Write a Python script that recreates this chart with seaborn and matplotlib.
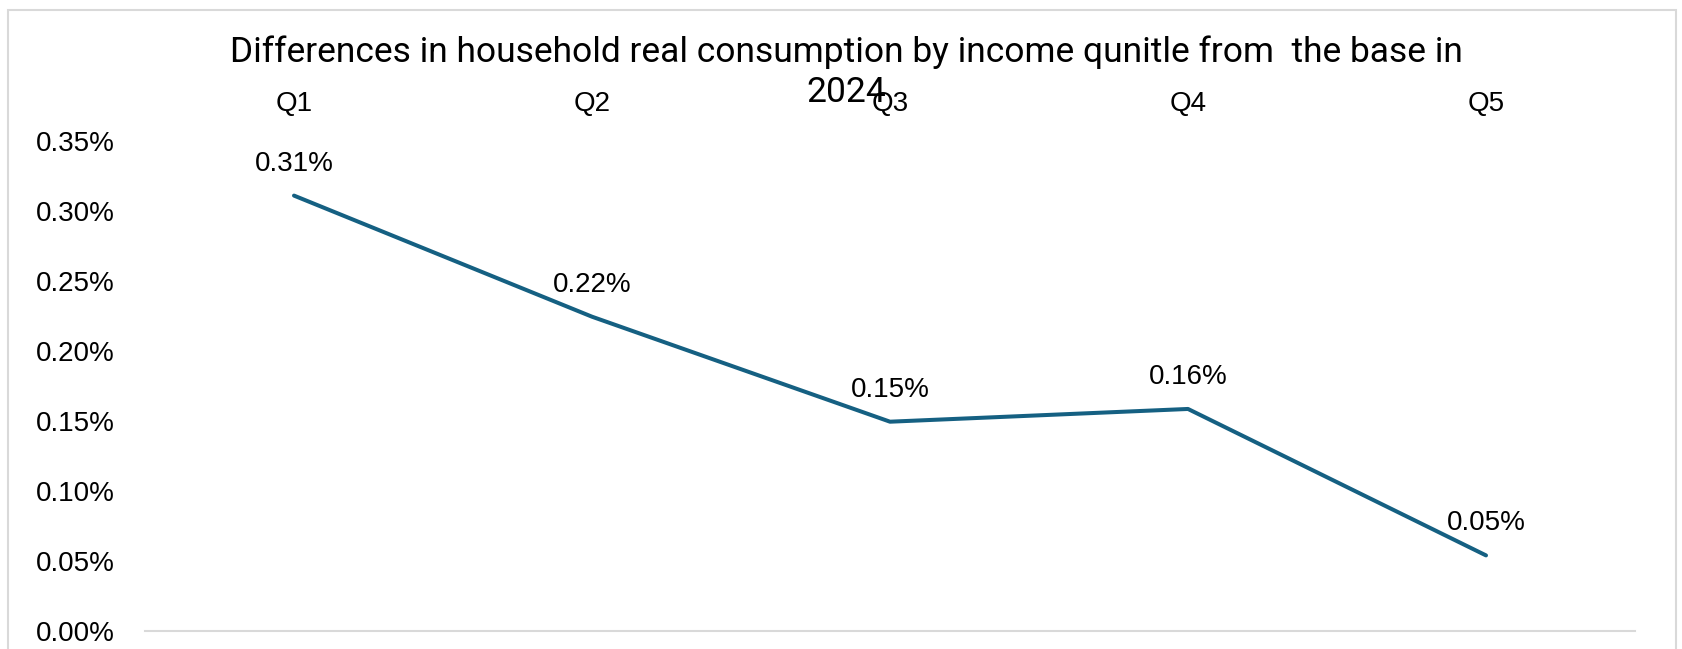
import matplotlib
matplotlib.use("Agg")
import matplotlib.pyplot as plt
import matplotlib.patches as patches
from matplotlib.ticker import PercentFormatter
import pandas as pd
import seaborn as sns

quintiles = ["Q1", "Q2", "Q3", "Q4", "Q5"]
consumption_diff = [0.311, 0.2245, 0.1495, 0.1586, 0.054]  # percent
y_ticks = [0.00, 0.05, 0.10, 0.15, 0.20, 0.25, 0.30, 0.35]
title_lines = ["Differences in household real consumption by income qunitle from  the base in",
               "2024"]

df = pd.DataFrame({"quintile": quintiles, "diff": consumption_diff})

sns.set_theme(style="white")
plt.rcParams['font.family'] = ['Liberation Sans', 'DejaVu Sans']

fig = plt.figure(figsize=(16.82, 6.49), dpi=100)
ax = fig.add_axes([145 / 1682, 18 / 649, 1490 / 1682, 490 / 649])

sns.lineplot(data=df, x="quintile", y="diff", ax=ax, color="#156082",
             linewidth=2.9, sort=False, solid_capstyle="round")

# data labels
for i, v in enumerate(consumption_diff):
    ax.annotate(f"{v:.2f}%", (i, v), xytext=(0, 23), textcoords="offset points",
                ha="center", va="center", fontsize=20, color="black")

ax.set_xlim(-0.5, 4.5)
ax.set_ylim(0, 0.35)
ax.set_yticks(y_ticks)
ax.yaxis.set_major_formatter(PercentFormatter(decimals=2))
ax.xaxis.tick_top()
ax.tick_params(axis="x", length=0, pad=17, labelsize=20, labelcolor="black")
ax.tick_params(axis="y", length=0, pad=22, labelsize=20, labelcolor="black")
ax.set_xlabel("")
ax.set_ylabel("")
for s in ["top", "left", "right"]:
    ax.spines[s].set_visible(False)
ax.spines["bottom"].set_color("#D9D9D9")
ax.spines["bottom"].set_linewidth(1.5)

# title (two lines, second one sits over the Q3 label like in the original)
fig.text(0.503, 0.945, title_lines[0], ha="center", va="top", fontsize=25.5,
         color="black", family=["Roboto", "DejaVu Sans"])
fig.text(0.503, 0.883, title_lines[1], ha="center", va="top", fontsize=25.5,
         color="black", family=["Roboto", "DejaVu Sans"])

# chart area border
border = patches.Rectangle((8 / 1682, -0.05), 1668 / 1682, 1.05 - 10 / 649,
                           transform=fig.transFigure, fill=False,
                           edgecolor="#D9D9D9", linewidth=1.5)
fig.patches.append(border)

fig.savefig("out.png", dpi=100)
